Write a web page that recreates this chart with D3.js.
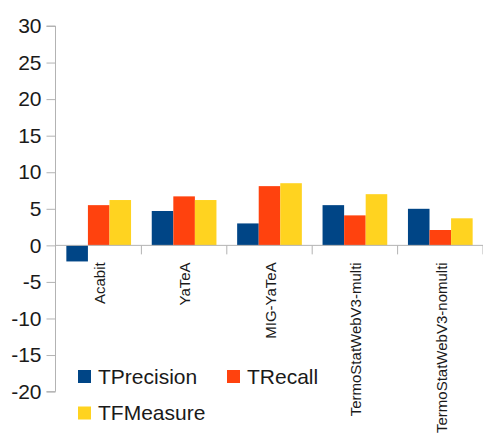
<!DOCTYPE html>
<html>
<head>
<meta charset="utf-8">
<script src="https://cdn.jsdelivr.net/npm/d3@7"></script>
<style>
  body { margin: 0; background: #fff; }
  text { font-family: "Liberation Sans", Arial, sans-serif; }
</style>
</head>
<body>
<svg width="483" height="433"></svg>
<script>
const categories = ['Acabit', 'YaTeA', 'MIG-YaTeA', 'TermoStatWebV3-multi', 'TermoStatWebV3-nomulti'];
const series = ['TPrecision', 'TRecall', 'TFMeasure'];
const tPrecision = [-2.2, 4.7, 3.0, 5.5, 5.0];
const tRecall = [5.5, 6.7, 8.1, 4.1, 2.1];
const tFMeasure = [6.2, 6.2, 8.5, 7.0, 3.7];
const yTicks = [-20, -15, -10, -5, 0, 5, 10, 15, 20, 25, 30];
const colors = ['#004586', '#ff420e', '#ffd320'];

const values = [tPrecision, tRecall, tFMeasure];
const data = categories.map((c, i) => ({
  name: c,
  vals: series.map((s, j) => ({ key: s, value: values[j][i] }))
}));

const svg = d3.select('svg');
const plotLeft = 56, plotRight = 483, plotTop = 26, plotBottom = 391.6;

// scales
const x0 = d3.scaleBand().domain(categories).range([plotLeft, plotRight]);
const x1 = d3.scaleBand().domain(series).range([0, x0.bandwidth()]).paddingOuter(0.48);
const y = d3.scaleLinear().domain([-20, 30]).range([plotBottom, plotTop]);
const color = d3.scaleOrdinal().domain(series).range(colors);

// bars
svg.append('g').selectAll('g')
  .data(data)
  .enter()
  .append('g')
  .attr('transform', d => `translate(${x0(d.name)},0)`)
  .selectAll('rect')
  .data(d => d.vals)
  .enter()
  .append('rect')
  .attr('x', d => x1(d.key))
  .attr('width', x1.bandwidth())
  .attr('y', d => y(Math.max(0, d.value)))
  .attr('height', d => Math.abs(y(d.value) - y(0)))
  .attr('fill', d => color(d.key));

// y axis (plain hyphen for negatives, like the original)
const yAxis = svg.append('g')
  .attr('transform', `translate(${plotLeft - 0.5},0)`)
  .call(d3.axisLeft(y).tickValues(yTicks).tickSize(9).tickPadding(5).tickFormat(d => String(d)));
yAxis.select('.domain').attr('stroke', '#b3b3b3').attr('d', `M-9,${y(30)}H0V${y(-20)}H-9`);
yAxis.selectAll('.tick line').attr('stroke', '#b3b3b3');
yAxis.selectAll('.tick text')
  .attr('fill', '#1a1a1a')
  .style('font-size', '21px')
  .style('font-family', '"Liberation Sans", Arial, sans-serif');

// zero line with category ticks
const xAxis = svg.append('g')
  .attr('transform', `translate(0,${y(0)})`);
xAxis.append('line')
  .attr('x1', plotLeft).attr('x2', plotRight)
  .attr('stroke', '#b3b3b3');
xAxis.selectAll('.ctick')
  .data(categories)
  .enter()
  .append('line')
  .attr('x1', d => x0(d) + x0.step())
  .attr('x2', d => x0(d) + x0.step())
  .attr('y1', 0).attr('y2', 9)
  .attr('stroke', '#b3b3b3');
xAxis.selectAll('.clabel')
  .data(categories)
  .enter()
  .append('text')
  .attr('transform', d => `translate(${x0(d) + x0.bandwidth() / 2 + 1},17) rotate(-90)`)
  .attr('text-anchor', 'end')
  .attr('dy', '0.35em')
  .attr('fill', '#1a1a1a')
  .style('font-size', '15px')
  .text(d => d);

// legend
const legendPos = [[78, 370], [227, 370], [78, 406.5]];
const legend = svg.append('g').selectAll('g')
  .data(series)
  .enter()
  .append('g')
  .attr('transform', (d, i) => `translate(${legendPos[i][0]},${legendPos[i][1]})`);
legend.append('rect')
  .attr('width', 13).attr('height', 13)
  .attr('fill', d => color(d));
legend.append('text')
  .attr('x', 20).attr('y', 13.5)
  .attr('fill', '#1a1a1a')
  .style('font-size', '21px')
  .text(d => d);
</script>
</body>
</html>
